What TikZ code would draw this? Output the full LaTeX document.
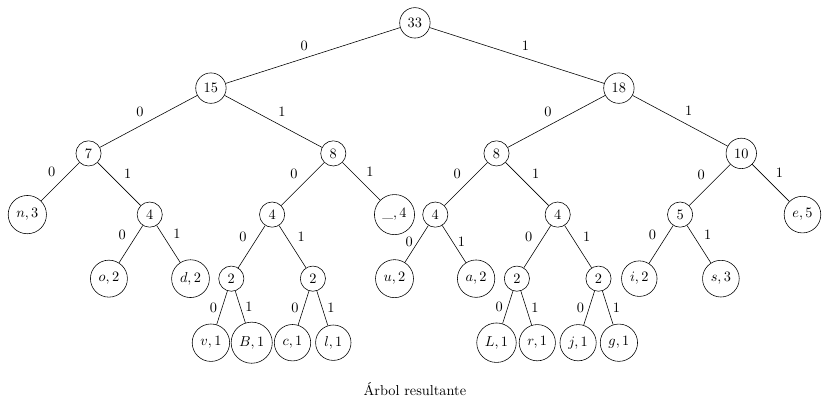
\documentclass[tikz,border=0pt]{standalone}
\begin{document}
\begin{tikzpicture}[nodo/.style={circle, draw}]
            \useasboundingbox (-10.17, -9.36) rectangle (10.15, 0.56);
            \node[nodo] (c33) at (0, 0) {\(33\)};
            \node[nodo] (c15) at (-5, -1.6) {\(15\)};
            \node[nodo] (c18) at (5, -1.6) {\(18\)};
            \draw (c33) -- node[above left] {\(0\)} (c15);
            \draw (c33) -- node[above right] {\(1\)} (c18);
            \node[nodo] (c7) at (-8, -3.2) {\(7\)};
            \node[nodo] (c8a) at (-2, -3.2) {\(8\)};
            \node[nodo] (c8b) at (2, -3.2) {\(8\)};
            \node[nodo] (c10) at (8, -3.2) {\(10\)};
            \draw (c15) -- node[above left] {\(0\)} (c7);
            \draw (c15) -- node[above right] {\(1\)} (c8a);
            \draw (c18) -- node[above left] {\(0\)} (c8b);
            \draw (c18) -- node[above right] {\(1\)} (c10);
            \node[nodo] (n3) at (-9.5, -4.7) {\(n,3\)};
            \node[nodo] (c4a) at (-6.5, -4.7) {\(4\)};
            \node[nodo] (c4b) at (-3.5, -4.7) {\(4\)};
            \node[nodo] (sp4) at (-0.5, -4.7) {\(\_,4\)};
            \node[nodo] (c4c) at (0.5, -4.7) {\(4\)};
            \node[nodo] (c4d) at (3.5, -4.7) {\(4\)};
            \node[nodo] (c5) at (6.5, -4.7) {\(5\)};
            \node[nodo] (e5) at (9.5, -4.7) {\(e,5\)};
            \draw (c7) -- node[above left] {\(0\)} (n3);
            \draw (c7) -- node[above right] {\(1\)} (c4a);
            \draw (c8a) -- node[above left] {\(0\)} (c4b);
            \draw (c8a) -- node[above right] {\(1\)} (sp4);
            \draw (c8b) -- node[above left] {\(0\)} (c4c);
            \draw (c8b) -- node[above right] {\(1\)} (c4d);
            \draw (c10) -- node[above left] {\(0\)} (c5);
            \draw (c10) -- node[above right] {\(1\)} (e5);
            \node[nodo] (o2) at (-7.5, -6.27) {\(o,2\)};
            \node[nodo] (d2) at (-5.5, -6.27) {\(d,2\)};
            \node[nodo] (c2a) at (-4.5, -6.27) {\(2\)};
            \node[nodo] (c2b) at (-2.5, -6.27) {\(2\)};
            \node[nodo] (u2) at (-0.5, -6.27) {\(u,2\)};
            \node[nodo] (a2) at (1.5, -6.27) {\(a,2\)};
            \node[nodo] (c2c) at (2.5, -6.27) {\(2\)};
            \node[nodo] (c2d) at (4.5, -6.27) {\(2\)};
            \node[nodo] (i2) at (5.5, -6.27) {\(i,2\)};
            \node[nodo] (s3) at (7.5, -6.27) {\(s,3\)};
            \draw (c4a) -- node[above left] {\(0\)} (o2);
            \draw (c4a) -- node[above right] {\(1\)} (d2);
            \draw (c4b) -- node[above left] {\(0\)} (c2a);
            \draw (c4b) -- node[above right] {\(1\)} (c2b);
            \draw (c4c) -- node[left, pos=0.45] {\(0\)} (u2);
            \draw (c4c) -- node[right, pos=0.45] {\(1\)} (a2);
            \draw (c4d) -- node[above left] {\(0\)} (c2c);
            \draw (c4d) -- node[above right] {\(1\)} (c2d);
            \draw (c5) -- node[above left] {\(0\)} (i2);
            \draw (c5) -- node[above right] {\(1\)} (s3);
            \node[nodo] (v1) at (-5, -7.84) {\(v,1\)};
            \node[nodo] (B1) at (-4, -7.84) {\(B,1\)};
            \node[nodo] (c1) at (-3, -7.84) {\(c,1\)};
            \node[nodo] (l1) at (-2, -7.84) {\(l,1\)};
            \node[nodo] (L1) at (2, -7.84) {\(L,1\)};
            \node[nodo] (r1) at (3, -7.84) {\(r,1\)};
            \node[nodo] (j1) at (4, -7.84) {\(j,1\)};
            \node[nodo] (g1) at (5, -7.84) {\(g,1\)};
            \draw (c2a) -- node[left] {\(0\)} (v1);
            \draw (c2a) -- node[right] {\(1\)} (B1);
            \draw (c2b) -- node[left] {\(0\)} (c1);
            \draw (c2b) -- node[right] {\(1\)} (l1);
            \draw (c2c) -- node[left] {\(0\)} (L1);
            \draw (c2c) -- node[right] {\(1\)} (r1);
            \draw (c2d) -- node[left] {\(0\)} (j1);
            \draw (c2d) -- node[right] {\(1\)} (g1);
            \node (titulo) at (0, -8.97) {Árbol resultante};
        \end{tikzpicture}
\end{document}
